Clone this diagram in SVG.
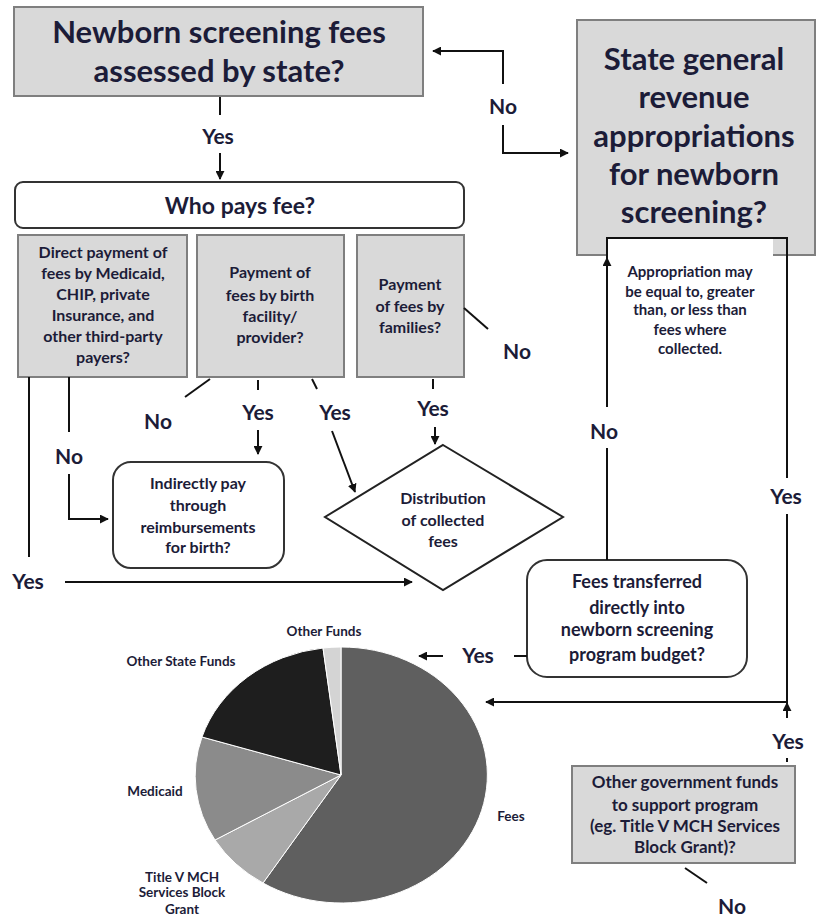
<svg xmlns="http://www.w3.org/2000/svg" width="818" height="922" viewBox="0 0 818 922">
<style>
  text { font-family: Lato, "Liberation Sans", sans-serif; fill: #1c1c38; text-anchor: middle; font-weight: bold; }
  .big { font-size: 31px; }
  .mid { font-size: 23px; }
  .lbl { font-size: 21px; }
  .sm { font-size: 16px; }
  .xs { font-size: 15px; }
  .pie { font-size: 13.5px; }
  .gbox { fill: #d9d9d9; stroke: #7f7f7f; stroke-width: 2; }
  .rbox { fill: #ffffff; stroke: #333333; stroke-width: 2; }
  .con { fill: none; stroke: #111111; stroke-width: 2; }
</style>
<defs>
  <marker id="ah" viewBox="0 0 10 10" refX="9" refY="5" markerWidth="9" markerHeight="9" markerUnits="userSpaceOnUse" orient="auto">
    <path d="M0,0 L10,5 L0,10 Z" fill="#111111"/>
  </marker>
</defs>

<g id="node-fees-assessed">
  <rect class="gbox" x="14" y="7" width="409" height="89"/>
  <text class="big" x="219" y="43">Newborn screening fees</text>
  <text class="big" x="219" y="82">assessed by state?</text>
</g>

<g id="node-state-general">
  <rect class="gbox" x="577" y="20" width="238" height="235"/>
  <text class="big" x="694" y="70">State general</text>
  <text class="big" x="694" y="108">revenue</text>
  <text class="big" x="694" y="147">appropriations</text>
  <text class="big" x="694" y="185">for newborn</text>
  <text class="big" x="694" y="223">screening?</text>
</g>

<g id="node-appropriation-note">
  <rect x="607" y="239" width="166" height="20" fill="#ffffff"/>
  <text class="xs" x="690" y="277">Appropriation may</text>
  <text class="xs" x="690" y="297">be equal to, greater</text>
  <text class="xs" x="690" y="315">than, or less than</text>
  <text class="xs" x="690" y="335">fees where</text>
  <text class="xs" x="690" y="354">collected.</text>
</g>

<g id="node-who-pays">
  <rect class="rbox" x="15" y="182" width="449" height="46" rx="8"/>
  <text class="mid" x="240" y="214">Who pays fee?</text>
</g>

<g id="node-direct-payment">
  <rect class="gbox" x="18" y="235" width="169" height="142"/>
  <text class="sm" x="103" y="258">Direct payment of</text>
  <text class="sm" x="103" y="279">fees by Medicaid,</text>
  <text class="sm" x="103" y="300">CHIP, private</text>
  <text class="sm" x="103" y="321">Insurance, and</text>
  <text class="sm" x="103" y="342">other third-party</text>
  <text class="sm" x="103" y="363">payers?</text>
</g>

<g id="node-birth-facility">
  <rect class="gbox" x="197" y="235" width="147" height="142"/>
  <text class="sm" x="270" y="278">Payment of</text>
  <text class="sm" x="270" y="301">fees by birth</text>
  <text class="sm" x="270" y="322">facility/</text>
  <text class="sm" x="270" y="343">provider?</text>
</g>

<g id="node-families">
  <rect class="gbox" x="357" y="235" width="107" height="142"/>
  <text class="sm" x="410" y="290">Payment</text>
  <text class="sm" x="410" y="312">of fees by</text>
  <text class="sm" x="410" y="333">families?</text>
</g>

<g id="node-indirectly">
  <rect class="rbox" x="113" y="462" width="171" height="106" rx="18" stroke="#555555"/>
  <text class="sm" x="198" y="489">Indirectly pay</text>
  <text class="sm" x="198" y="511">through</text>
  <text class="sm" x="198" y="533">reimbursements</text>
  <text class="sm" x="198" y="553">for birth?</text>
</g>

<g id="node-distribution">
  <polygon points="443,445 563,517 443,590 325,517" fill="#ffffff" stroke="#222222" stroke-width="2"/>
  <text class="sm" x="443" y="504">Distribution</text>
  <text class="sm" x="443" y="526">of collected</text>
  <text class="sm" x="443" y="547">fees</text>
</g>

<g id="node-fees-transferred">
  <rect class="rbox" x="527" y="560" width="220" height="117" rx="20" stroke="#444444"/>
  <text x="637" y="588" font-size="18">Fees transferred</text>
  <text x="637" y="614" font-size="18">directly into</text>
  <text x="637" y="636" font-size="18">newborn screening</text>
  <text x="637" y="661" font-size="18">program budget?</text>
</g>

<g id="node-other-gov">
  <rect class="gbox" x="572" y="766" width="223" height="97"/>
  <text x="685" y="788" font-size="17">Other government funds</text>
  <text x="685" y="811" font-size="17">to support program</text>
  <text x="685" y="832" font-size="17">(eg. Title V MCH Services</text>
  <text x="685" y="853" font-size="17">Block Grant)?</text>
</g>

<g id="node-pie">
  <g stroke="#ffffff" stroke-width="1">
    <path d="M341,775 L341,647 A146,128 0 1 1 263,883 Z" fill="#5f5f5f"/>
    <path d="M341,775 L263,883 A146,128 0 0 1 215,840 Z" fill="#a9a9a9"/>
    <path d="M341,775 L215,840 A146,128 0 0 1 202,737 Z" fill="#8b8b8b"/>
    <path d="M341,775 L202,737 A146,128 0 0 1 323,648 Z" fill="#1e1e1e"/>
    <path d="M341,775 L323,648 A146,128 0 0 1 341,647 Z" fill="#d4d4d4"/>
  </g>
  <text class="pie" x="324" y="636">Other Funds</text>
  <text class="pie" x="181" y="666">Other State Funds</text>
  <text class="pie" x="155" y="796">Medicaid</text>
  <text class="pie" x="511" y="821">Fees</text>
  <text class="pie" x="182" y="882">Title V MCH</text>
  <text class="pie" x="182" y="897">Services Block</text>
  <text class="pie" x="182" y="914">Grant</text>
</g>

<g id="connectors">
  <path class="con" d="M220,97 L220,115"/>
  <path class="con" d="M220,153 L220,179" marker-end="url(#ah)"/>
  <path class="con" d="M503,84 L503,51 L433,51" marker-end="url(#ah)"/>
  <path class="con" d="M503,125 L503,153 L568,153" marker-end="url(#ah)"/>
  <path class="con" d="M29,377 L29,557"/>
  <path class="con" d="M65,582 L412,582" marker-end="url(#ah)"/>
  <path class="con" d="M69,377 L69,432"/>
  <path class="con" d="M69,474 L69,519 L108,519" marker-end="url(#ah)"/>
  <path class="con" d="M210,379 L185,397"/>
  <path class="con" d="M258,380 L258,390"/>
  <path class="con" d="M258,430 L258,454" marker-end="url(#ah)"/>
  <path class="con" d="M312,379 L317,389"/>
  <path class="con" d="M332,431 L355,492" marker-end="url(#ah)"/>
  <path class="con" d="M433,379 L433,389"/>
  <path class="con" d="M435,427 L435,444" marker-end="url(#ah)"/>
  <path class="con" d="M464,308 L488,329"/>
  <path class="con" d="M607,560 L607,448"/>
  <path class="con" d="M607,407 L607,258" marker-end="url(#ah)"/>
  <path class="con" d="M607,258 L607,238 L787,238 L787,478"/>
  <path class="con" d="M787,514 L787,702 L486,702" marker-end="url(#ah)"/>
  <path class="con" d="M527,656 L514,656"/>
  <path class="con" d="M443,656 L419,656" marker-end="url(#ah)"/>
  <path class="con" d="M787,718 L787,703" marker-end="url(#ah)"/>
  <path class="con" d="M787,758 L787,762"/>
  <path class="con" d="M685,868 L707,883"/>
  <text class="lbl" x="218" y="144">Yes</text>
  <text class="lbl" x="503" y="114">No</text>
  <text class="lbl" x="517" y="359">No</text>
  <text class="lbl" x="158" y="429">No</text>
  <text class="lbl" x="258" y="420">Yes</text>
  <text class="lbl" x="335" y="420">Yes</text>
  <text class="lbl" x="433" y="416">Yes</text>
  <text class="lbl" x="69" y="464">No</text>
  <text class="lbl" x="28" y="589">Yes</text>
  <text class="lbl" x="604" y="439">No</text>
  <text class="lbl" x="786" y="504">Yes</text>
  <text class="lbl" x="478" y="663">Yes</text>
  <text class="lbl" x="788" y="749">Yes</text>
  <text class="lbl" x="732" y="914">No</text>
</g>
</svg>
